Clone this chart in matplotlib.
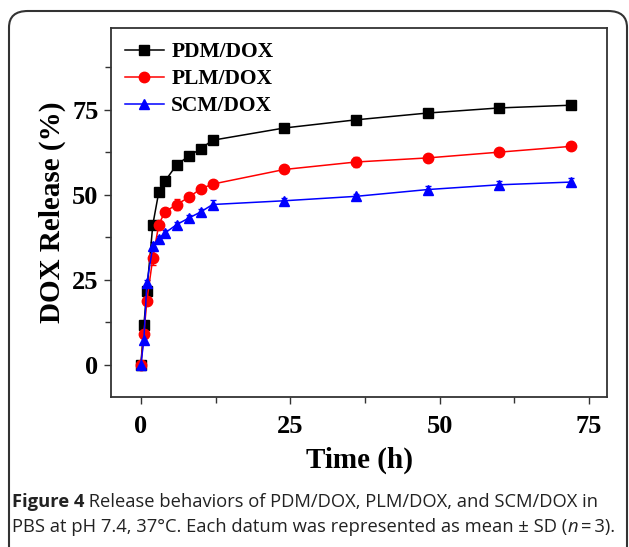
import matplotlib
matplotlib.use("Agg")
import matplotlib.pyplot as plt
from matplotlib.patches import FancyBboxPatch
from matplotlib.ticker import MultipleLocator

# release data
time_h = [0, 0.5, 1, 2, 3, 4, 6, 8, 10, 12, 24, 36, 48, 60, 72]
pdm = [0, 11.6, 21.8, 41.2, 50.8, 53.9, 58.8, 61.3, 63.5, 66.0, 69.6, 72.0, 74.0, 75.5, 76.3]
pdm_sd = [0.3, 0.8, 0.8, 0.8, 0.8, 0.7, 0.6, 0.6, 0.6, 0.6, 0.6, 0.6, 0.6, 0.6, 0.6]
plm = [0, 9.0, 18.8, 31.4, 41.2, 44.9, 47.1, 49.2, 51.7, 53.1, 57.4, 59.6, 60.8, 62.5, 64.2]
plm_sd = [0.3, 1.0, 0.8, 2.0, 1.0, 0.8, 1.6, 0.9, 0.8, 0.8, 0.8, 1.5, 0.8, 0.8, 0.8]
scm = [0, 7.4, 24.0, 34.8, 37.1, 38.7, 41.2, 43.1, 44.9, 47.1, 48.2, 49.5, 51.5, 52.9, 53.7]
scm_sd = [0.3, 0.8, 0.8, 1.2, 0.8, 0.8, 0.8, 1.0, 1.0, 1.3, 0.8, 0.7, 1.0, 1.2, 1.1]

names = ["PDM/DOX", "PLM/DOX", "SCM/DOX"]

serif = "Liberation Serif"

fig = plt.figure(figsize=(6.29, 5.47), dpi=100)
ax = fig.add_axes([111 / 629, 1 - 397 / 547, (607 - 111) / 629, (397 - 28) / 547])

series = [(pdm, pdm_sd, "black", "s", 6.5),
          (plm, plm_sd, "#ff0000", "o", 7.5),
          (scm, scm_sd, "#0000ff", "^", 7.5)]
for (vals, sd, col, mk, ms), name in zip(series, names):
    ax.errorbar(time_h, vals, yerr=sd, color=col, marker=mk, markersize=ms,
                linewidth=1.1, elinewidth=1.0, capsize=2.5, capthick=1.0,
                label=name)

ax.set_xlim(-5, 78)
ax.set_ylim(-9.5, 99)
ax.xaxis.set_major_locator(MultipleLocator(25))
ax.xaxis.set_minor_locator(MultipleLocator(12.5))
ax.yaxis.set_major_locator(MultipleLocator(25))
ax.yaxis.set_minor_locator(MultipleLocator(12.5))
ax.tick_params(which="major", direction="out", length=5, width=1.0, color="#333333",
               labelsize=19, pad=4)
ax.tick_params(which="minor", direction="out", length=4, width=1.0, color="#333333")
ax.tick_params(axis="x", pad=8)
for lab in ax.get_xticklabels() + ax.get_yticklabels():
    lab.set_fontfamily(serif)
    lab.set_fontweight("bold")
for sp in ax.spines.values():
    sp.set_linewidth(1.3)
    sp.set_color("#333333")

ax.set_xlabel("Time (h)", fontsize=21, fontweight="bold", family=serif, labelpad=6)
ax.set_ylabel("DOX Release (%)", fontsize=21, fontweight="bold", family=serif, labelpad=4)

handles, labels = ax.get_legend_handles_labels()
handles = [h[0] for h in handles]
leg = ax.legend(handles, labels, loc="upper left", frameon=False,
                prop={"family": serif, "weight": "bold", "size": 15.5},
                handlelength=1.8, handletextpad=0.35, labelspacing=0.33,
                borderaxespad=0.35, borderpad=0.3)

# rounded frame around the figure panel
frame = FancyBboxPatch((9 / 629, -0.05), (627 - 9) / 629, 1 - 11 / 547 + 0.05,
                       boxstyle="round,pad=0,rounding_size=0.03",
                       transform=fig.transFigure, fill=False,
                       edgecolor="#333333", linewidth=1.5, clip_on=False)
fig.patches.append(frame)

cap = "Open Sans"
csize = 13.2
t1 = fig.text(12 / 629, 1 - 502 / 547, "Figure 4", fontsize=csize, fontweight="bold",
              family=cap, va="center", color="#222222")
ax.annotate(" Release behaviors of PDM/DOX, PLM/DOX, and SCM/DOX in", xy=(1, 0.5),
            xycoords=t1, va="center", ha="left", fontsize=csize, family=cap,
            color="#222222", annotation_clip=False)
t2 = fig.text(12 / 629, 1 - 527 / 547,
              "PBS at pH 7.4, 37\u00b0C. Each datum was represented as mean \u00b1 SD (",
              fontsize=csize, family=cap, va="center", color="#222222")
t3 = ax.annotate("n", xy=(1, 0.5), xycoords=t2, va="center", ha="left", fontsize=csize,
                 family=cap, style="italic", color="#222222", annotation_clip=False)
ax.annotate("\u2009=\u20093).", xy=(1, 0.5), xycoords=t3, va="center", ha="left",
            fontsize=csize, family=cap, color="#222222", annotation_clip=False)

fig.savefig("out.png", dpi=100)
